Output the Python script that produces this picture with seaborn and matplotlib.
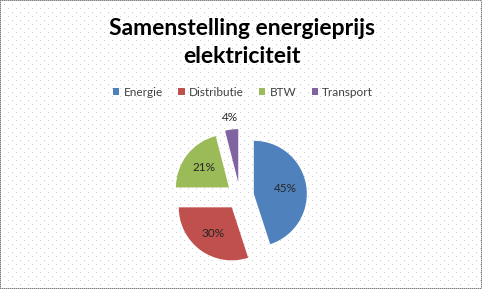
import matplotlib
matplotlib.use("Agg")
import matplotlib.pyplot as plt
import seaborn as sns
import numpy as np

# Data
categories = ["Energie", "Distributie", "BTW", "Transport"]
shares = [45, 30, 21, 4]
colors = ["#4F81BD", "#C0504D", "#9BBB59", "#8064A2"]
title_lines = ["Samenstelling energieprijs", "elektriciteit"]

sns.set_theme(style="white")
plt.rcParams["font.family"] = ["Lato", "DejaVu Sans"]

W, H = 482, 289
fig = plt.figure(figsize=(W / 100, H / 100), dpi=100)
fig.patch.set_facecolor("white")

# dotted background texture with checkered border
bg = np.ones((H, W, 3))
for r in range(0, H, 4):
    off = 4 if (r // 4) % 2 else 0
    bg[r, off::8] = 0.8
bg[0, ::2] = 0.5
bg[-1, ::2] = 0.5
bg[::2, 0] = 0.5
bg[::2, -1] = 0.5
bg[0, 1::2] = 0.75
bg[-1, 1::2] = 0.75
bg[1::2, 0] = 0.75
bg[1::2, -1] = 0.75
fig.figimage(bg, xo=0, yo=0, zorder=-1, origin="upper")

ax = fig.add_axes([0, 0, 1, 1])
ax.patch.set_alpha(0)

R = 53
wedges, texts, autotexts = ax.pie(
    shares,
    colors=colors,
    startangle=90,
    counterclock=False,
    radius=R,
    center=(240, H - 196),
    explode=[14] * len(shares),
    autopct=lambda p: f"{p:.0f}%",
    pctdistance=0.6,
    textprops=dict(fontsize=8.5, color="#262626"),
    wedgeprops=dict(linewidth=0),
)
# small slice label placed outside
w = wedges[-1]
mid = np.deg2rad((w.theta1 + w.theta2) / 2)
cx, cy = w.center
autotexts[-1].set_position((cx + 1.22 * R * np.cos(mid), cy + 1.22 * R * np.sin(mid)))

ax.set_xlim(0, W)
ax.set_ylim(0, H)
ax.set_aspect("equal")
ax.axis("off")

fig.text(0.502, 1 - 35 / H, title_lines[0], ha="center", va="baseline", fontsize=16.5,
         fontweight="bold", color="black")
fig.text(0.502, 1 - 63 / H, title_lines[1], ha="center", va="baseline", fontsize=16.5,
         fontweight="bold", color="black")

leg = fig.legend(wedges, categories, loc="center", bbox_to_anchor=(243 / W, 1 - 92 / H),
                 ncol=4, frameon=False, fontsize=8.5, handlelength=0.55, handleheight=0.55,
                 handletextpad=0.35, columnspacing=1.3)
for t in leg.get_texts():
    t.set_color("#404040")

fig.savefig("out.png", dpi=100)
